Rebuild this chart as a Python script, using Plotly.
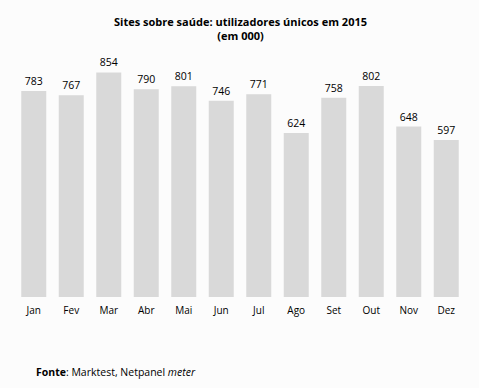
import plotly.graph_objects as go

months = ["Jan", "Fev", "Mar", "Abr", "Mai", "Jun", "Jul", "Ago", "Set", "Out", "Nov", "Dez"]
users = [783, 767, 854, 790, 801, 746, 771, 624, 758, 802, 648, 597]

W, H = 479, 388
left, right = 15, W - 465
top, bottom = 34, H - 297
ph = H - top - bottom
pw = W - left - right

fig = go.Figure(go.Bar(
    x=months, y=users,
    marker=dict(color="#d9d9d9", line=dict(width=0)),
    text=[str(v) for v in users], textposition="outside",
    textfont=dict(size=10.5, color="#000000"),
    cliponaxis=False, hoverinfo="skip",
))
fig.update_layout(
    width=W, height=H,
    margin=dict(l=left, r=right, t=top, b=bottom),
    paper_bgcolor="#fcfcfc", plot_bgcolor="#fcfcfc",
    font=dict(family="Open Sans", size=10, color="#000000"),
    bargap=0.333,
    showlegend=False,
    xaxis=dict(showgrid=False, showline=False, ticks="", tickfont=dict(size=10), ticklabelstandoff=6),
    yaxis=dict(range=[0, 1000], visible=False),
    annotations=[
        dict(text="<b>Sites sobre saúde: utilizadores únicos em 2015<br>(em 000)</b>",
             xref="paper", yref="paper", x=(240 - left) / pw, y=(297 - 12) / ph,
             yanchor="top", showarrow=False, font=dict(size=11), align="center"),
        dict(text="<b>Fonte</b>: Marktest, Netpanel <i>meter</i>",
             xref="paper", yref="paper", x=(34 - left) / pw, y=-(372 - 297) / ph,
             showarrow=False, font=dict(size=10.5), xanchor="left", yanchor="middle"),
    ],
)
fig.write_html("out.html", config={"displayModeBar": False},
               post_script="document.body.style.margin='0';")
